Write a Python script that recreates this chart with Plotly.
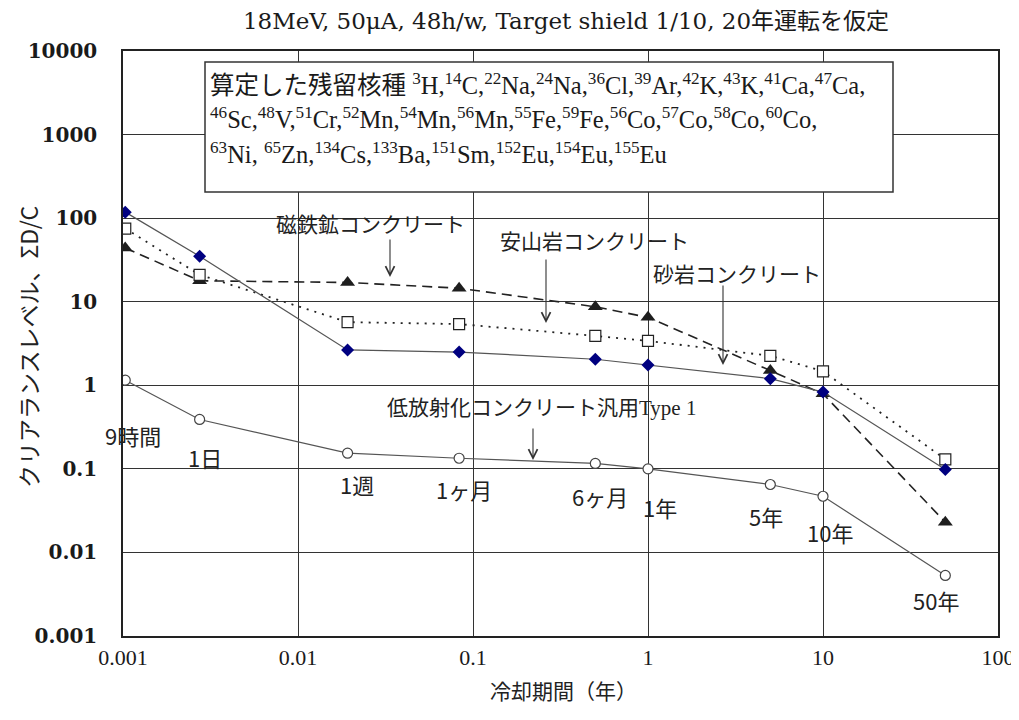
import plotly.graph_objects as go
import math

# ---- data ----
cooling_years = [0.00103, 0.00274, 0.0192, 0.0833, 0.5, 1, 5, 10, 50]
cooling_labels = ["9時間", "1日", "1週", "1ヶ月", "6ヶ月", "1年", "5年", "10年", "50年"]

sandstone = [118, 35, 2.65, 2.5, 2.05, 1.75, 1.2, 0.83, 0.098]
andesite = [75, 21, 5.7, 5.4, 3.9, 3.4, 2.25, 1.47, 0.13]
magnetite = [44, 17.8, 17, 14.5, 8.7, 6.5, 1.5, 0.79, 0.023]
low_activation = [1.15, 0.39, 0.154, 0.134, 0.116, 0.1, 0.065, 0.047, 0.0053]

x_tickvals = [0.001, 0.01, 0.1, 1, 10, 100]
x_ticktext = ["0.001", "0.01", "0.1", "1", "10", "100"]
y_tickvals = [0.001, 0.01, 0.1, 1, 10, 100, 1000, 10000]
y_ticktext = ["0.001", "0.01", "0.1", "1", "10", "100", "1000", "10000"]

title_text = "18MeV, 50μA, 48h/w, Target shield 1/10, 20年運転を仮定"
x_title = "冷却期間（年）"
y_title = "クリアランスレベル、ΣD/C"

nuclide_lines = [
    "算定した残留核種 <sup>3</sup>H,<sup>14</sup>C,<sup>22</sup>Na,<sup>24</sup>Na,<sup>36</sup>Cl,<sup>39</sup>Ar,<sup>42</sup>K,<sup>43</sup>K,<sup>41</sup>Ca,<sup>47</sup>Ca,",
    "<sup>46</sup>Sc,<sup>48</sup>V,<sup>51</sup>Cr,<sup>52</sup>Mn,<sup>54</sup>Mn,<sup>56</sup>Mn,<sup>55</sup>Fe,<sup>59</sup>Fe,<sup>56</sup>Co,<sup>57</sup>Co,<sup>58</sup>Co,<sup>60</sup>Co,",
    "<sup>63</sup>Ni, <sup>65</sup>Zn,<sup>134</sup>Cs,<sup>133</sup>Ba,<sup>151</sup>Sm,<sup>152</sup>Eu,<sup>154</sup>Eu,<sup>155</sup>Eu",
]

# ---- layout geometry (page body adds an 8px offset) ----
OFF = 8
W, H = 1019 - OFF, 720 - OFF
PX0, PX1, PY0, PY1 = 123, 998, 51, 636          # plot area in screenshot pixels
L, T = PX0 - OFF, PY0 - OFF
R, B = (W + OFF) - PX1, (H + OFF) - PY1
PW, PH = PX1 - PX0, PY1 - PY0

def px(xp):
    return (xp - PX0) / PW

def py(yp):
    return (PY1 - yp) / PH

SERIF = "Liberation Serif, Noto Sans CJK JP, serif"
WSERIF = "DejaVu Serif, Noto Sans CJK JP, serif"
CJK = "Noto Sans CJK JP, sans-serif"
INK = "#1a1a1a"

fig = go.Figure()

fig.add_trace(go.Scatter(
    x=cooling_years, y=magnetite, mode="lines+markers", name="磁鉄鉱コンクリート",
    line=dict(color="#222222", width=1.6, dash="10px,6px"),
    marker=dict(symbol="triangle-up", size=13, color="#1e1e1e"),
))
fig.add_trace(go.Scatter(
    x=cooling_years, y=andesite, mode="lines+markers", name="安山岩コンクリート",
    line=dict(color="#222222", width=1.8, dash="2px,6px"),
    marker=dict(symbol="square", size=11, color="white", line=dict(color="#222222", width=1.2)),
))
fig.add_trace(go.Scatter(
    x=cooling_years, y=sandstone, mode="lines+markers", name="砂岩コンクリート",
    line=dict(color="#555555", width=1.2),
    marker=dict(symbol="diamond", size=10, color="#000080"),
))
fig.add_trace(go.Scatter(
    x=cooling_years, y=low_activation, mode="lines+markers", name="低放射化コンクリート汎用Type 1",
    line=dict(color="#555555", width=1.2),
    marker=dict(symbol="circle", size=10, color="white", line=dict(color="#444444", width=1.2)),
))

annotations = []

# nuclide box text lines
for txt, yc in zip(nuclide_lines, [84, 118, 153]):
    annotations.append(dict(
        xref="paper", yref="paper", x=px(208), y=py(yc), xanchor="left", yanchor="middle",
        text=txt, showarrow=False, font=dict(family=SERIF, size=24.5, color=INK), align="left",
    ))

# series labels with arrows
series_labels = [
    ("磁鉄鉱コンクリート", 370, 225, 390, 238, 277),
    ("安山岩コンクリート", 594, 242, 546, 258, 323),
    ("砂岩コンクリート", 737, 275, 723, 284, 365),
    ("低放射化コンクリート汎用Type 1", 541, 408, 533, 427, 460),
]
for txt, tx, ty, ax_, ytail, yhead in series_labels:
    annotations.append(dict(
        xref="paper", yref="paper", x=px(tx), y=py(ty), xanchor="center", yanchor="middle",
        text=txt, showarrow=False, font=dict(family=SERIF, size=21, color="#222222"),
    ))
    annotations.append(dict(
        xref="paper", yref="paper", x=px(ax_), y=py(yhead), text="",
        showarrow=True, arrowhead=5, arrowsize=1.6, arrowwidth=1.1, arrowcolor="#333333",
        ax=0, ay=-(yhead - ytail), standoff=0, startstandoff=0,
    ))

# cooling period labels, offset from low-activation points
label_shifts = [(8, -55), (5, -38), (9, -31), (5, -31), (5, -33), (12, -38), (-4, -32), (7, -36), (-9, -25)]
for xv, yv, lab, (dx, dy) in zip(cooling_years, low_activation, cooling_labels, label_shifts):
    annotations.append(dict(
        xref="x", yref="y", x=math.log10(xv), y=math.log10(yv), xshift=dx, yshift=dy,
        text=lab, showarrow=False, font=dict(family=CJK, size=22, color="#222222"),
        xanchor="center", yanchor="middle",
    ))

# axis titles
annotations.append(dict(
    xref="paper", yref="paper", x=px(563), y=py(690), text=x_title, showarrow=False,
    font=dict(family=CJK, size=21, color="#222222"), xanchor="center", yanchor="middle",
))
annotations.append(dict(
    xref="paper", yref="paper", x=px(28), y=py(347), text=y_title, showarrow=False, textangle=-90,
    font=dict(family=CJK, size=23, color="#222222"), xanchor="center", yanchor="middle",
))

fig.update_layout(
    width=W, height=H,
    margin=dict(l=L, r=R, t=T, b=B, autoexpand=False),
    paper_bgcolor="white", plot_bgcolor="white",
    showlegend=False,
    title=dict(text=title_text, x=(566 - OFF) / W, xanchor="center", y=1 - (21 - OFF) / H, yanchor="middle",
               yref="container", font=dict(family=WSERIF, size=23, color=INK), automargin=False),
    annotations=annotations,
    shapes=[dict(type="rect", xref="paper", yref="paper", x0=px(205), x1=px(893), y0=py(192), y1=py(62),
                 line=dict(color="#333333", width=1.5), fillcolor="white", layer="above")],
)

fig.update_xaxes(
    type="log", range=[-3, 2], tickvals=x_tickvals, ticktext=x_ticktext,
    showgrid=True, gridcolor="#333333", gridwidth=1.2,
    showline=True, linecolor="#222222", linewidth=1.5, mirror=True,
    ticks="", ticklabelstandoff=1, zeroline=False, automargin=False,
    tickfont=dict(family=SERIF, size=22, color=INK),
)
fig.update_yaxes(
    type="log", range=[-3, 4], tickvals=y_tickvals, ticktext=y_ticktext,
    showgrid=True, gridcolor="#333333", gridwidth=1.2,
    showline=True, linecolor="#222222", linewidth=1.5, mirror=True,
    ticks="", ticklabelstandoff=20, zeroline=False, automargin=False,
    tickfont=dict(family="DejaVu Serif, serif", size=20, color=INK, weight="bold"),
)

fig.write_html("out.html")
